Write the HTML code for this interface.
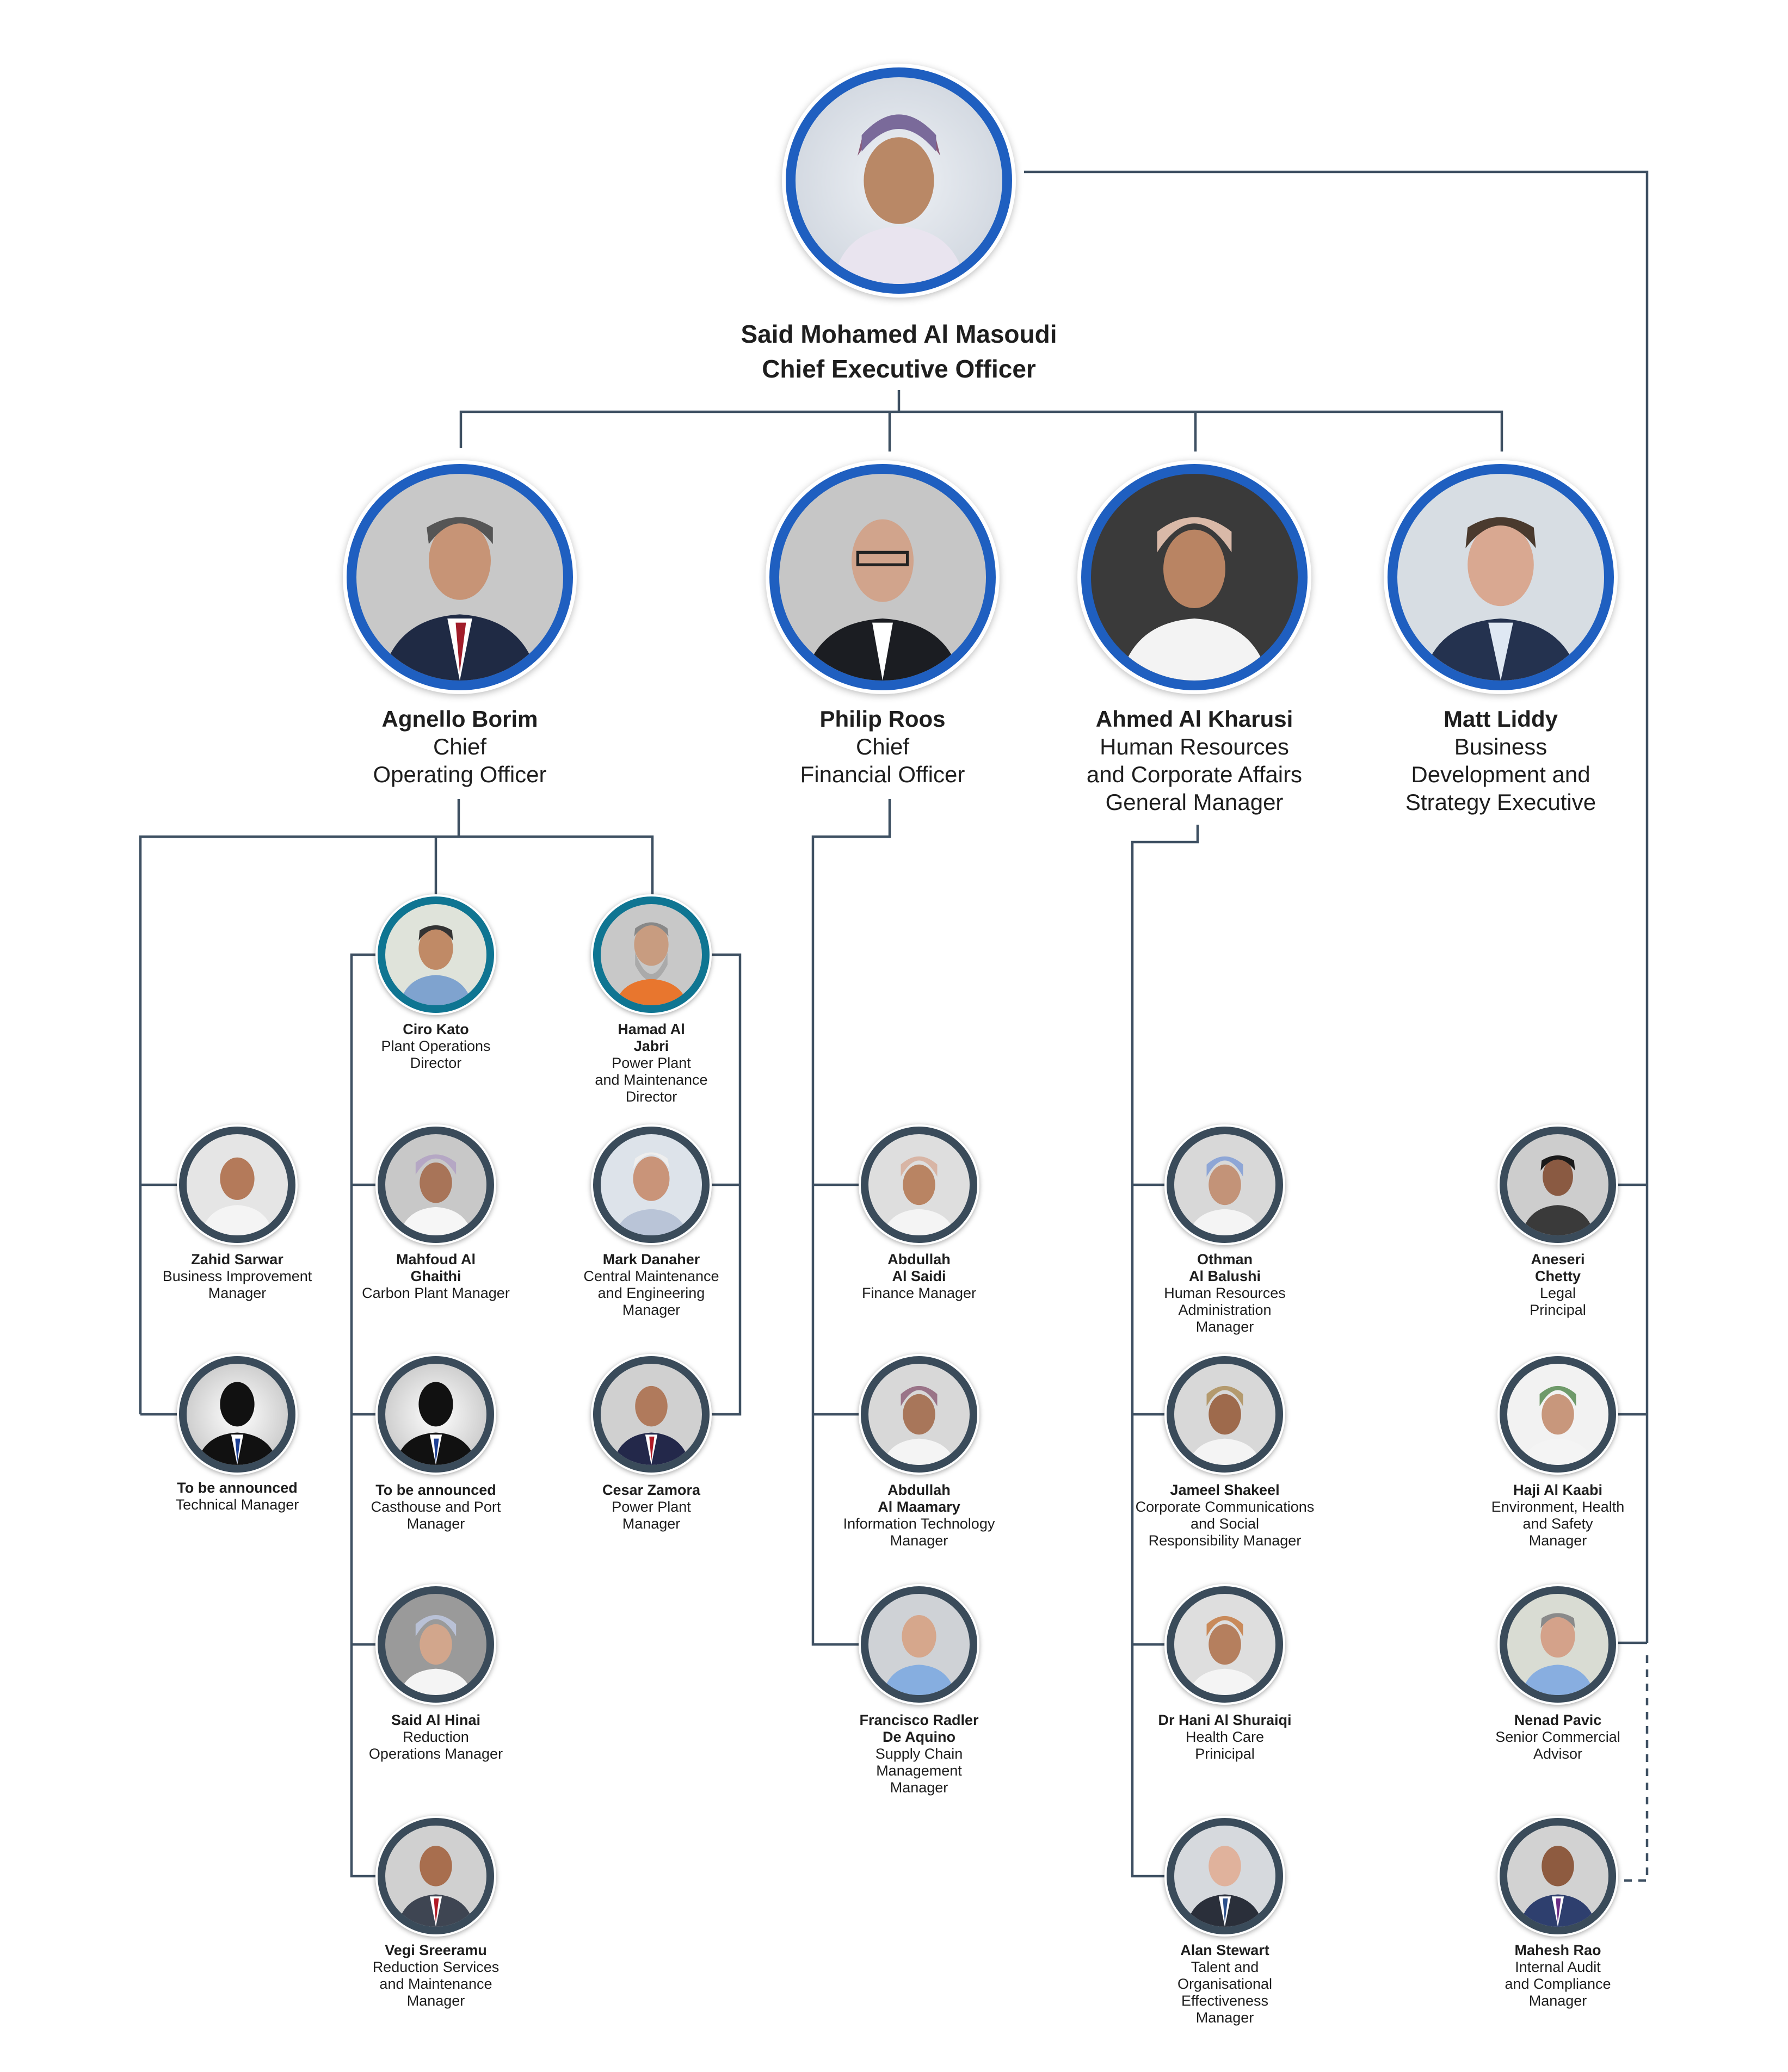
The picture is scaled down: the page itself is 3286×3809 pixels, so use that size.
<!DOCTYPE html>
<html><head><meta charset="utf-8">
<style>
html,body{margin:0;padding:0;background:#fff;}
body{width:3286px;height:3809px;position:relative;overflow:hidden;font-family:"Liberation Sans",Arial,sans-serif;color:#1e1e1e;}
.c{position:absolute;border-radius:50%;box-sizing:border-box;overflow:hidden;}
.s{width:214px;height:214px;border:14px solid #3a4b5a;box-shadow:0 0 0 4px #fff,0 2px 9px 4px rgba(0,0,0,.35);}
.t{border-color:#0f7592;}
.b{width:416px;height:416px;border:18px solid #1f5fc0;box-shadow:0 0 0 7px #fff,0 3px 14px 6px rgba(0,0,0,.3);}
.c svg{width:100%;height:100%;display:block;}
.tx{position:absolute;width:520px;text-align:center;font-size:27px;line-height:31px;}
.tx b{font-weight:bold;}
.L{position:absolute;width:800px;text-align:center;font-size:42px;line-height:51px;}
</style></head><body>

<svg width="3286" height="3809" style="position:absolute;left:0;top:0" fill="none" stroke="#3e5062" stroke-width="4.5">
<!-- CEO -->
<polyline points="1882,316 3027,316 3027,3020"/>
<line x1="1652" y1="717" x2="1652" y2="757"/>
<polyline points="847,824 847,757 2760,757 2760,830"/>
<line x1="1635" y1="757" x2="1635" y2="830"/>
<line x1="2197" y1="757" x2="2197" y2="830"/>
<!-- COO -->
<line x1="843" y1="1469" x2="843" y2="1538"/>
<polyline points="258,2600 258,1538 1199,1538 1199,1650"/>
<line x1="801" y1="1538" x2="801" y2="1650"/>
<line x1="258" y1="2178" x2="331" y2="2178"/>
<line x1="258" y1="2600" x2="331" y2="2600"/>
<polyline points="696,1755 646,1755 646,3449 696,3449"/>
<line x1="646" y1="2178" x2="696" y2="2178"/>
<line x1="646" y1="2600" x2="696" y2="2600"/>
<line x1="646" y1="3023" x2="696" y2="3023"/>
<polyline points="1302,1755 1360,1755 1360,2600 1302,2600"/>
<line x1="1302" y1="2178" x2="1360" y2="2178"/>
<!-- CFO -->
<polyline points="1635,1469 1635,1538 1494,1538 1494,3023 1584,3023"/>
<line x1="1494" y1="2178" x2="1584" y2="2178"/>
<line x1="1494" y1="2600" x2="1584" y2="2600"/>
<!-- HR -->
<polyline points="2201,1516 2201,1548 2081,1548 2081,3449 2146,3449"/>
<line x1="2081" y1="2178" x2="2146" y2="2178"/>
<line x1="2081" y1="2600" x2="2146" y2="2600"/>
<line x1="2081" y1="3023" x2="2146" y2="3023"/>
<!-- right -->
<line x1="2968" y1="2178" x2="3027" y2="2178"/>
<line x1="2968" y1="2600" x2="3027" y2="2600"/>
<line x1="2968" y1="3020" x2="3027" y2="3020"/>
<polyline points="3027,3043 3027,3457 2970,3457" stroke-dasharray="14,12"/>
</svg>

<!-- Big circles -->
<div class="c b" style="left:1444px;top:124px;background:radial-gradient(#eef1f5,#c9d0da)"><svg viewBox="0 0 100 100"><ellipse cx="50" cy="50" rx="17" ry="21" fill="#b98866"/><path d="M30 38 Q50 8 70 38 L68 30 Q50 14 32 30Z" fill="#8a5a78"/><path d="M32 36 Q50 14 68 36 L68 28 Q50 8 32 28Z" fill="#7a6a9a"/><path d="M18 100 Q22 74 50 72 Q78 74 82 100Z" fill="#e9e4ef"/></svg></div>
<div class="c b" style="left:637px;top:853px;background:#c8c8c8"><svg viewBox="0 0 100 100"><ellipse cx="50" cy="42" rx="15" ry="19" fill="#c79476"/><path d="M35 34 Q50 14 66 34 L66 26 Q50 16 34 26Z" fill="#555"/><path d="M12 100 Q18 70 50 68 Q82 70 88 100Z" fill="#1f2a44"/><path d="M44 70 L50 100 L56 70Z" fill="#fff"/><path d="M48 72 L50 96 L53 72Z" fill="#a11d2a"/></svg></div>
<div class="c b" style="left:1414px;top:853px;background:#c6c6c6"><svg viewBox="0 0 100 100"><ellipse cx="50" cy="42" rx="15" ry="20" fill="#d1a48c"/><path d="M12 100 Q18 72 50 70 Q82 72 88 100Z" fill="#1b1d22"/><path d="M45 72 L50 100 L55 72Z" fill="#fff"/><rect x="38" y="38" width="24" height="6" fill="none" stroke="#222" stroke-width="1.4"/></svg></div>
<div class="c b" style="left:1987px;top:853px;background:#3a3a3a"><svg viewBox="0 0 100 100"><ellipse cx="50" cy="46" rx="15" ry="19" fill="#b98463"/><path d="M32 38 Q50 10 68 38 L68 28 Q50 14 32 28Z" fill="#d9b9a8"/><path d="M14 100 Q20 72 50 70 Q80 72 86 100Z" fill="#f3f3f3"/></svg></div>
<div class="c b" style="left:2550px;top:853px;background:#d7dde3"><svg viewBox="0 0 100 100"><ellipse cx="50" cy="44" rx="16" ry="20" fill="#d9a891"/><path d="M33 36 Q50 14 67 36 L66 26 Q50 16 34 26Z" fill="#4a3a2e"/><path d="M12 100 Q18 72 50 70 Q82 72 88 100Z" fill="#24324f"/><path d="M44 72 L50 100 L56 72Z" fill="#dfe8f3"/></svg></div>

<div class="L" style="left:1252px;top:582px;font-size:46px;line-height:64px;font-weight:bold">Said Mohamed Al Masoudi<br>Chief Executive Officer</div>
<div class="L" style="left:445px;top:1296px"><b>Agnello Borim</b><br>Chief<br>Operating Officer</div>
<div class="L" style="left:1222px;top:1296px"><b>Philip Roos</b><br>Chief<br>Financial Officer</div>
<div class="L" style="left:1795px;top:1296px"><b>Ahmed Al Kharusi</b><br>Human Resources<br>and Corporate Affairs<br>General Manager</div>
<div class="L" style="left:2358px;top:1296px"><b>Matt Liddy</b><br>Business<br>Development and<br>Strategy Executive</div>

<!-- small circles -->
<div class="c s t" style="left:694px;top:1648px;background:#dfe3da"><svg viewBox="0 0 100 100"><ellipse cx="50" cy="44" rx="17" ry="21" fill="#c08a66"/><path d="M33 36 Q50 14 67 36 L66 26 Q50 16 34 26Z" fill="#333"/><path d="M14 100 Q20 72 50 70 Q80 72 86 100Z" fill="#7fa3cf"/></svg></div>
<div class="c s t" style="left:1090px;top:1648px;background:#c8c8c8"><svg viewBox="0 0 100 100"><ellipse cx="50" cy="40" rx="17" ry="21" fill="#c89c80"/><path d="M34 48 Q50 90 66 48 L66 60 Q50 92 34 60Z" fill="#aaa"/><path d="M33 32 Q50 10 67 32 L66 24 Q50 12 34 24Z" fill="#888"/><path d="M14 100 Q20 76 50 74 Q80 76 86 100Z" fill="#e8762e"/></svg></div>

<div class="c s" style="left:329px;top:2071px;background:#e5e5e5"><svg viewBox="0 0 100 100"><ellipse cx="50" cy="44" rx="17" ry="21" fill="#b47a5a"/><path d="M14 100 Q20 72 50 70 Q80 72 86 100Z" fill="#f4f4f4"/></svg></div>
<div class="c s" style="left:329px;top:2493px;background:radial-gradient(#fff,#bbb)"><svg viewBox="0 0 100 100"><ellipse cx="50" cy="40" rx="17" ry="22" fill="#111"/><path d="M10 100 Q16 70 50 68 Q84 70 90 100Z" fill="#111"/><path d="M44 70 L50 100 L56 70Z" fill="#fff"/><path d="M48 74 L50 98 L53 74Z" fill="#1c3f94"/></svg></div>
<div class="c s" style="left:694px;top:2071px;background:#c8c8c8"><svg viewBox="0 0 100 100"><ellipse cx="50" cy="48" rx="16" ry="20" fill="#a87458"/><path d="M30 40 Q50 8 70 40 L70 28 Q50 12 30 28Z" fill="#b5a7c4"/><path d="M14 100 Q20 74 50 72 Q80 74 86 100Z" fill="#f6f6f6"/></svg></div>
<div class="c s" style="left:694px;top:2493px;background:radial-gradient(#fff,#bbb)"><svg viewBox="0 0 100 100"><ellipse cx="50" cy="40" rx="17" ry="22" fill="#111"/><path d="M10 100 Q16 70 50 68 Q84 70 90 100Z" fill="#111"/><path d="M44 70 L50 100 L56 70Z" fill="#fff"/><path d="M48 74 L50 98 L53 74Z" fill="#1c3f94"/></svg></div>
<div class="c s" style="left:694px;top:2916px;background:#9a9a9a"><svg viewBox="0 0 100 100"><ellipse cx="50" cy="50" rx="16" ry="20" fill="#d2a68c"/><path d="M30 42 Q50 8 70 42 L70 30 Q50 12 30 30Z" fill="#b9c1d6"/><path d="M14 100 Q20 76 50 74 Q80 76 86 100Z" fill="#f4f4f4"/></svg></div>
<div class="c s" style="left:694px;top:3342px;background:#d0d0d0"><svg viewBox="0 0 100 100"><ellipse cx="50" cy="40" rx="16" ry="20" fill="#a86e4e"/><path d="M12 100 Q18 70 50 68 Q82 70 88 100Z" fill="#3e4552"/><path d="M44 70 L50 100 L56 70Z" fill="#fff"/><path d="M48 72 L50 96 L53 72Z" fill="#b01a25"/></svg></div>
<div class="c s" style="left:1090px;top:2071px;background:#dde3ea"><svg viewBox="0 0 100 100"><ellipse cx="50" cy="44" rx="18" ry="22" fill="#c99479"/><path d="M32 34 Q50 6 68 34 L66 24 Q50 12 34 24Z" fill="#eee"/><path d="M14 100 Q20 76 50 74 Q80 76 86 100Z" fill="#b9c4d7"/></svg></div>
<div class="c s" style="left:1090px;top:2493px;background:#d0d0d0"><svg viewBox="0 0 100 100"><ellipse cx="50" cy="42" rx="16" ry="20" fill="#b07a5c"/><path d="M12 100 Q18 70 50 68 Q82 70 88 100Z" fill="#23284a"/><path d="M44 70 L50 100 L56 70Z" fill="#fff"/><path d="M48 72 L50 96 L53 72Z" fill="#b01a25"/></svg></div>

<div class="c s" style="left:1582px;top:2071px;background:#dedede"><svg viewBox="0 0 100 100"><ellipse cx="50" cy="50" rx="16" ry="20" fill="#b98463"/><path d="M32 42 Q50 10 68 42 L68 30 Q50 14 32 30Z" fill="#d8b5a5"/><path d="M14 100 Q20 76 50 74 Q80 76 86 100Z" fill="#f4f4f4"/></svg></div>
<div class="c s" style="left:1582px;top:2493px;background:#d8d8d8"><svg viewBox="0 0 100 100"><ellipse cx="50" cy="50" rx="16" ry="20" fill="#a8765a"/><path d="M32 42 Q50 10 68 42 L68 30 Q50 14 32 30Z" fill="#9a7488"/><path d="M14 100 Q20 76 50 74 Q80 76 86 100Z" fill="#f4f4f4"/></svg></div>
<div class="c s" style="left:1582px;top:2916px;background:#cfd2d6"><svg viewBox="0 0 100 100"><ellipse cx="50" cy="42" rx="17" ry="21" fill="#d6a78c"/><path d="M14 100 Q20 72 50 70 Q80 72 86 100Z" fill="#86aee0"/></svg></div>

<div class="c s" style="left:2144px;top:2071px;background:#d8d8d8"><svg viewBox="0 0 100 100"><ellipse cx="50" cy="50" rx="16" ry="20" fill="#c39378"/><path d="M32 42 Q50 10 68 42 L68 30 Q50 14 32 30Z" fill="#8ea6d6"/><path d="M14 100 Q20 76 50 74 Q80 76 86 100Z" fill="#f4f4f4"/></svg></div>
<div class="c s" style="left:2144px;top:2493px;background:#d8d8d8"><svg viewBox="0 0 100 100"><ellipse cx="50" cy="50" rx="16" ry="20" fill="#9e6a4c"/><path d="M32 42 Q50 10 68 42 L68 30 Q50 14 32 30Z" fill="#b49a6e"/><path d="M14 100 Q20 76 50 74 Q80 76 86 100Z" fill="#f4f4f4"/></svg></div>
<div class="c s" style="left:2144px;top:2916px;background:#dedede"><svg viewBox="0 0 100 100"><ellipse cx="50" cy="50" rx="16" ry="20" fill="#b57f5e"/><path d="M32 42 Q50 10 68 42 L68 30 Q50 14 32 30Z" fill="#c98a5a"/><path d="M14 100 Q20 76 50 74 Q80 76 86 100Z" fill="#f4f4f4"/></svg></div>
<div class="c s" style="left:2144px;top:3342px;background:#d6d9dd"><svg viewBox="0 0 100 100"><ellipse cx="50" cy="40" rx="16" ry="20" fill="#e0b29c"/><path d="M12 100 Q18 70 50 68 Q82 70 88 100Z" fill="#2a2f3a"/><path d="M44 70 L50 100 L56 70Z" fill="#fff"/><path d="M48 72 L50 96 L53 72Z" fill="#2c4f8a"/></svg></div>

<div class="c s" style="left:2756px;top:2071px;background:#cdcdcd"><svg viewBox="0 0 100 100"><ellipse cx="50" cy="42" rx="15" ry="19" fill="#8a5a42"/><path d="M33 36 Q50 14 67 36 L66 26 Q50 16 34 26Z" fill="#1a1a1a"/><path d="M14 100 Q20 72 50 70 Q80 72 86 100Z" fill="#3a3a3a"/></svg></div>
<div class="c s" style="left:2756px;top:2493px;background:#f2f2f2"><svg viewBox="0 0 100 100"><ellipse cx="50" cy="50" rx="16" ry="20" fill="#c8977c"/><path d="M32 42 Q50 10 68 42 L68 30 Q50 14 32 30Z" fill="#6f9a6a"/><path d="M14 100 Q20 76 50 74 Q80 76 86 100Z" fill="#f4f4f4"/></svg></div>
<div class="c s" style="left:2756px;top:2916px;background:#d9dcd3"><svg viewBox="0 0 100 100"><ellipse cx="50" cy="42" rx="17" ry="21" fill="#d4a28a"/><path d="M33 34 Q50 12 67 34 L66 24 Q50 14 34 24Z" fill="#8a8a8a"/><path d="M14 100 Q20 72 50 70 Q80 72 86 100Z" fill="#88aee0"/></svg></div>
<div class="c s" style="left:2756px;top:3342px;background:#d2d2d2"><svg viewBox="0 0 100 100"><ellipse cx="50" cy="40" rx="16" ry="20" fill="#8e5b40"/><path d="M12 100 Q18 70 50 68 Q82 70 88 100Z" fill="#2e3f6e"/><path d="M44 70 L50 100 L56 70Z" fill="#fff"/><path d="M48 72 L50 96 L53 72Z" fill="#6a2c86"/></svg></div>

<!-- texts -->
<div class="tx" style="left:176px;top:2300px"><b>Zahid Sarwar</b><br>Business Improvement<br>Manager</div>
<div class="tx" style="left:176px;top:2720px"><b>To be announced</b><br>Technical Manager</div>
<div class="tx" style="left:541px;top:1877px"><b>Ciro Kato</b><br>Plant Operations<br>Director</div>
<div class="tx" style="left:541px;top:2300px"><b>Mahfoud Al<br>Ghaithi</b><br>Carbon Plant Manager</div>
<div class="tx" style="left:541px;top:2724px"><b>To be announced</b><br>Casthouse and Port<br>Manager</div>
<div class="tx" style="left:541px;top:3147px"><b>Said Al Hinai</b><br>Reduction<br>Operations Manager</div>
<div class="tx" style="left:541px;top:3570px"><b>Vegi Sreeramu</b><br>Reduction Services<br>and Maintenance<br>Manager</div>
<div class="tx" style="left:937px;top:1877px"><b>Hamad Al<br>Jabri</b><br>Power Plant<br>and Maintenance<br>Director</div>
<div class="tx" style="left:937px;top:2300px"><b>Mark Danaher</b><br>Central Maintenance<br>and Engineering<br>Manager</div>
<div class="tx" style="left:937px;top:2724px"><b>Cesar Zamora</b><br>Power Plant<br>Manager</div>
<div class="tx" style="left:1429px;top:2300px"><b>Abdullah<br>Al Saidi</b><br>Finance Manager</div>
<div class="tx" style="left:1429px;top:2724px"><b>Abdullah<br>Al Maamary</b><br>Information Technology<br>Manager</div>
<div class="tx" style="left:1429px;top:3147px"><b>Francisco Radler<br>De Aquino</b><br>Supply Chain<br>Management<br>Manager</div>
<div class="tx" style="left:1991px;top:2300px"><b>Othman<br>Al Balushi</b><br>Human Resources<br>Administration<br>Manager</div>
<div class="tx" style="left:1991px;top:2724px"><b>Jameel Shakeel</b><br>Corporate Communications<br>and Social<br>Responsibility Manager</div>
<div class="tx" style="left:1991px;top:3147px"><b>Dr Hani Al Shuraiqi</b><br>Health Care<br>Prinicipal</div>
<div class="tx" style="left:1991px;top:3570px"><b>Alan Stewart</b><br>Talent and<br>Organisational<br>Effectiveness<br>Manager</div>
<div class="tx" style="left:2603px;top:2300px"><b>Aneseri<br>Chetty</b><br>Legal<br>Principal</div>
<div class="tx" style="left:2603px;top:2724px"><b>Haji Al Kaabi</b><br>Environment, Health<br>and Safety<br>Manager</div>
<div class="tx" style="left:2603px;top:3147px"><b>Nenad Pavic</b><br>Senior Commercial<br>Advisor</div>
<div class="tx" style="left:2603px;top:3570px"><b>Mahesh Rao</b><br>Internal Audit<br>and Compliance<br>Manager</div>
</body></html>
